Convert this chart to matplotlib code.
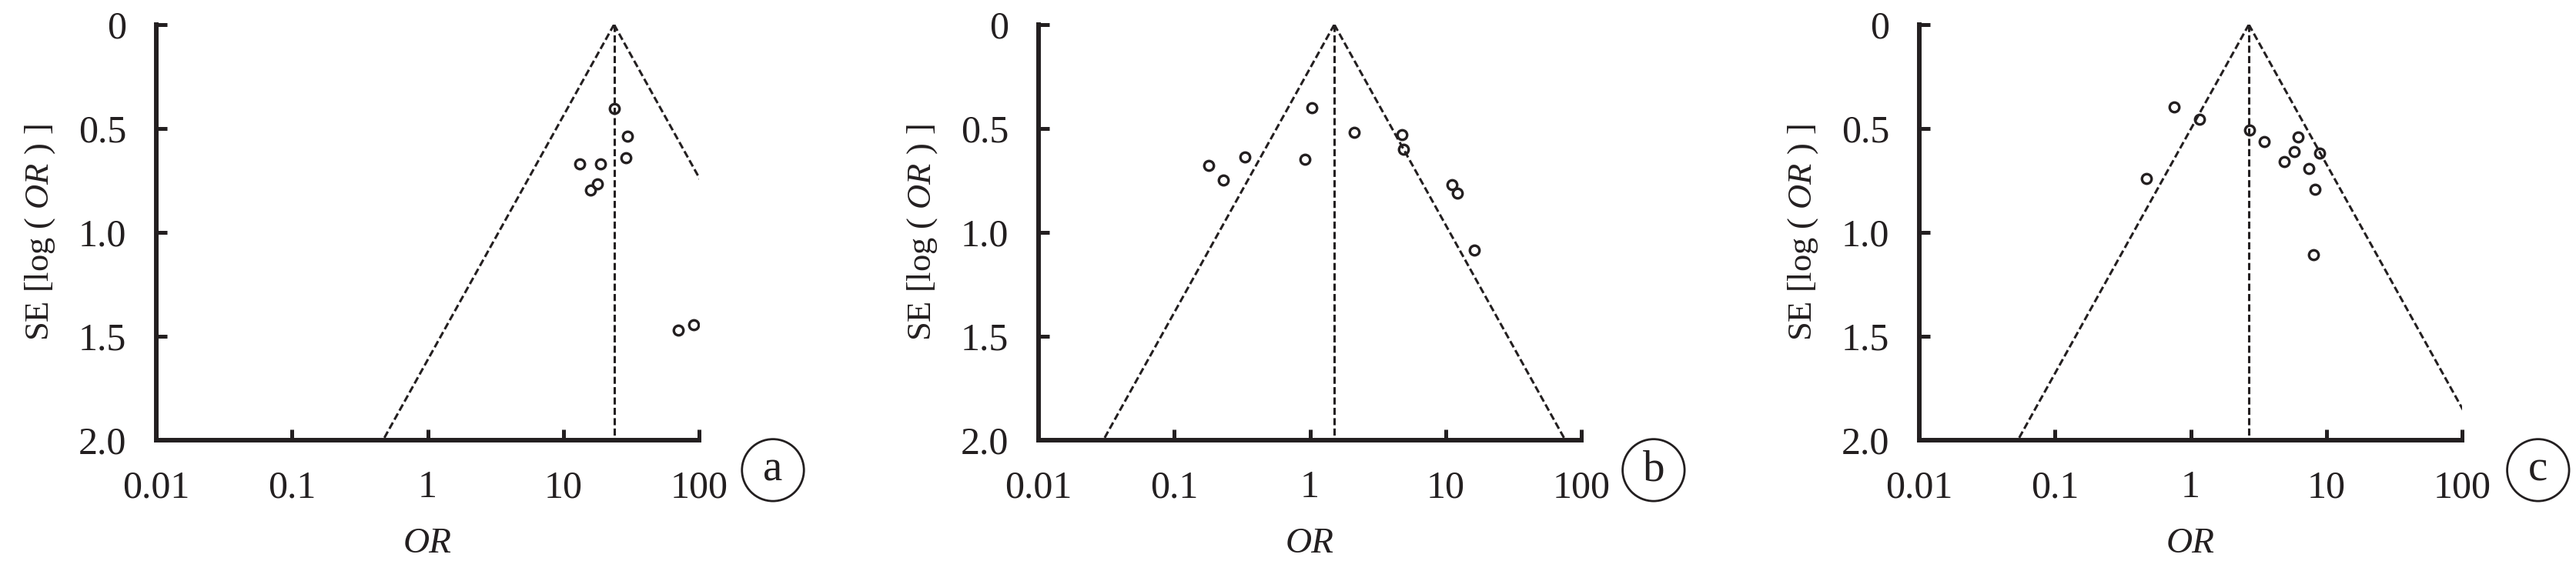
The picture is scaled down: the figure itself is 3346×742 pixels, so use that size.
import numpy as np
import matplotlib.pyplot as plt

plt.rcParams['font.family'] = 'Liberation Serif'
plt.rcParams['mathtext.fontset'] = 'custom'
plt.rcParams['mathtext.rm'] = 'Liberation Serif'
plt.rcParams['mathtext.it'] = 'Liberation Serif:italic'

ink = '#231f20'

panel_labels = ['a', 'b', 'c']

# pooled OR = apex of each funnel
pooled_or = [23.6, 1.51, 2.68]

# study points
or_a = [23.7, 29.5, 29.0, 13.2, 18.7, 17.9, 15.9, 69.9, 91.4]
se_a = [0.405, 0.536, 0.642, 0.672, 0.672, 0.768, 0.795, 1.471, 1.445]

or_b = [0.179, 0.230, 0.329, 0.918, 1.03, 2.13, 4.74, 4.89, 11.07, 12.2, 16.2]
se_b = [0.676, 0.750, 0.636, 0.647, 0.401, 0.519, 0.530, 0.600, 0.770, 0.812, 1.085]

or_c = [0.755, 1.16, 2.71, 3.48, 6.18, 5.79, 4.87, 8.95, 7.40, 8.22, 0.473, 8.04]
se_c = [0.395, 0.454, 0.507, 0.562, 0.540, 0.610, 0.660, 0.617, 0.691, 0.794, 0.739, 1.106]

x_ticks = [0.01, 0.1, 1, 10, 100]
x_tick_labels = ['0.01', '0.1', '1', '10', '100']
y_ticks = [0, 0.5, 1.0, 1.5, 2.0]
y_tick_labels = ['0', '0.5', '1.0', '1.5', '2.0']
se_max = 2.0

studies = [(or_a, se_a), (or_b, se_b), (or_c, se_c)]

fig = plt.figure(figsize=(33.46, 7.42), dpi=100)

lefts = [0.0607, 0.4032, 0.7451]
label_x = [1.136, 1.133, 1.140]

for i, (ors, ses) in enumerate(studies):
    ax = fig.add_axes([lefts[i], 0.2291, 0.2107, 0.7278])
    p = pooled_or[i]

    # funnel: 95% limits around the pooled estimate
    se_line = np.array([0, se_max])
    lo = np.exp(np.log(p) - 1.96 * se_line)
    hi = np.exp(np.log(p) + 1.96 * se_line)
    dash = (0, (3, 1.4))
    ax.plot(lo, se_line, color=ink, lw=2.2, linestyle=dash)
    ax.plot(hi, se_line, color=ink, lw=2.2, linestyle=dash)
    ax.plot([p, p], [0, se_max], color=ink, lw=2.2, linestyle=dash)

    ax.plot(ors, ses, 'o', mfc='none', mec=ink, ms=9, mew=2.4, linestyle='none')

    ax.set_xscale('log')
    ax.set_xlim(0.01, 100)
    ax.set_ylim(se_max, 0)
    ax.set_xticks(x_ticks)
    ax.set_xticklabels(x_tick_labels)
    ax.minorticks_off()
    ax.set_yticks(y_ticks)
    ax.set_yticklabels(y_tick_labels)

    for s in ['top', 'right']:
        ax.spines[s].set_visible(False)
    for s in ['left', 'bottom']:
        ax.spines[s].set_linewidth(4.3)
        ax.spines[s].set_color(ink)
        ax.spines[s].set_capstyle('projecting')

    ax.tick_params(direction='in', length=10, width=3.6, color=ink,
                   labelsize=36, labelcolor=ink, pad=28)

    ax.set_xlabel('OR', fontsize=34, fontstyle='italic', color=ink, labelpad=20)
    ax.set_ylabel(r'SE [log ( $\mathit{OR}$ ) ]', fontsize=32, color=ink, labelpad=20)

    ax.text(label_x[i], -0.072, panel_labels[i], transform=ax.transAxes,
            ha='center', va='center', fontsize=41, color=ink,
            bbox=dict(boxstyle='circle,pad=0.25', fc='white', ec=ink, lw=2))

fig.savefig('out.png', dpi=100)
